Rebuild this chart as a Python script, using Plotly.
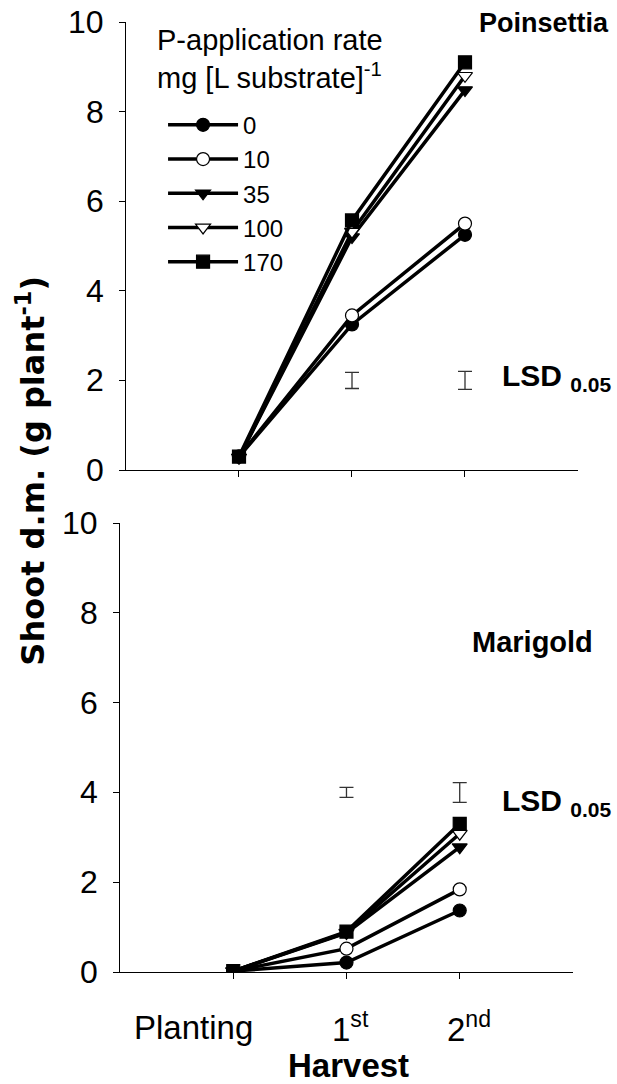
import plotly.graph_objects as go

# Harvest stages (x positions 0, 1, 2)
stages = [0, 1, 2]
stage_labels = ["Planting", "1<sup>st</sup>", "2<sup>nd</sup>"]

# Y-axis ticks (g plant^-1)
y_ticks = [0, 2, 4, 6, 8, 10]

# P-application rates, mg [L substrate]^-1
rates = ["0", "10", "35", "100", "170"]

# Shoot dry mass (g plant^-1), Poinsettia
poinsettia = {
    "0":   [0.30, 3.25, 5.25],
    "10":  [0.30, 3.45, 5.50],
    "35":  [0.28, 5.20, 8.48],
    "100": [0.28, 5.32, 8.80],
    "170": [0.30, 5.57, 9.10],
}

# Shoot dry mass (g plant^-1), Marigold
marigold = {
    "0":   [0.02, 0.21, 1.37],
    "10":  [0.02, 0.52, 1.84],
    "35":  [0.02, 0.87, 2.78],
    "100": [0.02, 0.88, 3.08],
    "170": [0.02, 0.90, 3.30],
}

# LSD 0.05 bars: centre and half-length at 1st and 2nd harvest
lsd_x = [1, 2]
lsd_poin_y = [2.0, 2.0]
lsd_poin_half = [0.18, 0.20]
lsd_mari_y = [4.0, 4.0]
lsd_mari_half = [0.11, 0.22]

symbols = {
    "0": ("circle", "black"),
    "10": ("circle", "white"),
    "35": ("triangle-down", "black"),
    "100": ("triangle-down", "white"),
    "170": ("square", "black"),
}

FONT = "Liberation Sans, Arial, sans-serif"
WIDE = "DejaVu Sans, Verdana, sans-serif"

fig = go.Figure()

for r in rates:
    sym, fill = symbols[r]
    fig.add_trace(go.Scatter(
        x=stages, y=poinsettia[r], mode="lines+markers", name=r,
        line=dict(color="black", width=3.5),
        marker=dict(symbol=sym, size=13, color=fill, line=dict(color="black", width=1.2)),
        xaxis="x", yaxis="y", showlegend=True,
    ))
for r in rates:
    sym, fill = symbols[r]
    fig.add_trace(go.Scatter(
        x=stages, y=marigold[r], mode="lines+markers", name=r,
        line=dict(color="black", width=3.5),
        marker=dict(symbol=sym, size=13, color=fill, line=dict(color="black", width=1.2)),
        xaxis="x2", yaxis="y2", showlegend=False,
    ))

# LSD bars
fig.add_trace(go.Scatter(
    x=lsd_x, y=lsd_poin_y, mode="markers", marker=dict(size=0.1, color="rgba(0,0,0,0)"),
    error_y=dict(type="data", array=lsd_poin_half, visible=True, color="#333", thickness=1.3, width=7),
    xaxis="x", yaxis="y", showlegend=False, hoverinfo="skip",
))
fig.add_trace(go.Scatter(
    x=lsd_x, y=lsd_mari_y, mode="markers", marker=dict(size=0.1, color="rgba(0,0,0,0)"),
    error_y=dict(type="data", array=lsd_mari_half, visible=True, color="#333", thickness=1.3, width=7),
    xaxis="x2", yaxis="y2", showlegend=False, hoverinfo="skip",
))

common_x = dict(
    range=[-1, 3], tickvals=stages, showline=True, linecolor="black", linewidth=1,
    ticks="outside", ticklen=6, tickcolor="black", showgrid=False, zeroline=False,
    showticklabels=False,
)
common_y = dict(
    range=[0, 10], tickvals=y_ticks, showline=True, linecolor="black", linewidth=1,
    ticks="outside", ticklen=6, tickcolor="black", showgrid=False, zeroline=False,
    showticklabels=False,
)

annotations = []

# Y tick labels, set a little further from the axis line
for yref, xpos in (("y", -0.0306), ("y2", -0.0437)):
    for v in y_ticks:
        annotations.append(dict(
            text=str(v), xref="paper", yref=yref, x=xpos, y=v,
            xanchor="right", yanchor="middle", showarrow=False,
            font=dict(family=FONT, size=32, color="black"),
        ))

# Category labels under the lower panel (Planting sits left of its tick)
label_shift = [-40, 4, 9]
for xv, txt, sh in zip(stages, stage_labels, label_shift):
    annotations.append(dict(
        text=txt, xref="x2", yref="paper", x=xv, y=-0.058, xshift=sh,
        xanchor="center", yanchor="middle", showarrow=False,
        font=dict(family=FONT, size=33, color="black"),
    ))

annotations += [
    dict(text="<b>Harvest</b>", xref="x2", yref="paper", x=1, y=-0.098, xshift=2,
         xanchor="center", yanchor="middle", showarrow=False,
         font=dict(family=FONT, size=33)),
    dict(text="P-application rate<br>mg [L substrate]<sup>-1</sup>", xref="paper", yref="paper",
         x=0.077, y=0.961, xanchor="left", yanchor="middle", align="left", showarrow=False,
         font=dict(family=FONT, size=29)),
    dict(text="<b>Poinsettia</b>", x=1.072, y=0.999, xref="paper", yref="paper",
         xanchor="right", yanchor="middle", showarrow=False,
         font=dict(family=FONT, size=27)),
    dict(text="<b>Marigold</b>", x=1.037, y=0.347, xref="paper", yref="paper",
         xanchor="right", yanchor="middle", showarrow=False,
         font=dict(family=FONT, size=29)),
    dict(text="<b>LSD <sub>0.05</sub></b>", xref="paper", yref="y", x=0.83, y=2.07,
         xanchor="left", showarrow=False, font=dict(family=FONT, size=30)),
    dict(text="<b>LSD <sub>0.05</sub></b>", xref="paper", yref="y2", x=0.83, y=3.78,
         xanchor="left", showarrow=False, font=dict(family=FONT, size=30)),
    dict(text="<b>Shoot d.m. (g plant<sup>-1</sup>)</b>", xref="paper", yref="paper",
         x=-0.244, y=0.528, textangle=-90, showarrow=False,
         font=dict(family=WIDE, size=32)),
]

fig.update_layout(
    width=617, height=1084,
    margin=dict(l=120, r=39, t=22, b=112),
    paper_bgcolor="white", plot_bgcolor="white",
    font=dict(family=FONT, color="black"),
    xaxis=dict(common_x, domain=[0.0131, 1.0], anchor="y"),
    yaxis=dict(common_y, domain=[0.5284, 1.0], anchor="x"),
    xaxis2=dict(common_x, domain=[0.0, 0.989], anchor="y2"),
    yaxis2=dict(common_y, domain=[0.0, 0.4726], anchor="x2"),
    legend=dict(
        x=0.094, y=0.915, xanchor="left", yanchor="top",
        bgcolor="rgba(0,0,0,0)", font=dict(family=FONT, size=24),
        itemwidth=70, tracegroupgap=0,
    ),
    annotations=annotations,
)

fig.write_html("out.html")
